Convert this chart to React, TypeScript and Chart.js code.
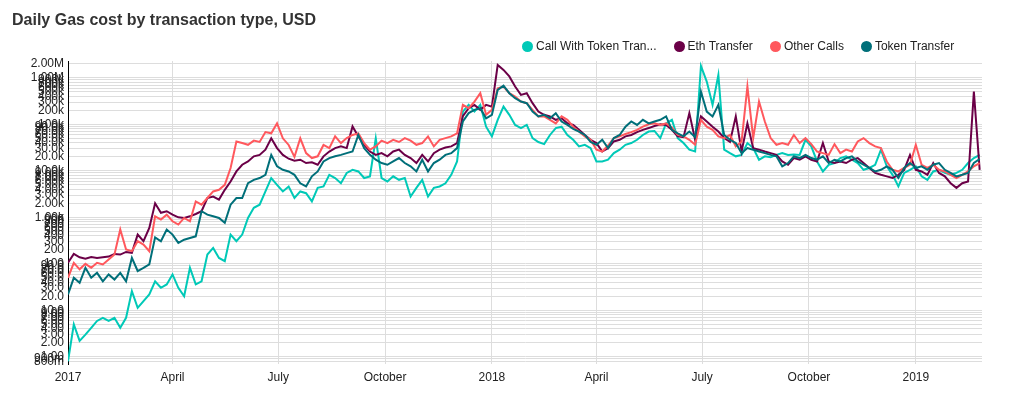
import React, { useEffect, useRef } from "react";
import { Chart, registerables } from "chart.js";

Chart.register(...registerables);

const FONT = "'Liberation Sans', Arial, Helvetica, sans-serif";

// Sampling grid: one reading every STEP_DAYS days starting at START_DATE
const START_DATE = "2017-01-01";
const STEP_DAYS = 5;
const END_DATE = "2019-02-27";

const seriesNames = ["Call With Token Transfer", "Eth Transfer", "Other Calls", "Token Transfer"];
const legendLabels = ["Call With Token Tran...", "Eth Transfer", "Other Calls", "Token Transfer"];
const seriesColors = ["#00c9b7", "#6b0047", "#ff585d", "#006f79"];

// Daily gas cost, USD (read every 5 days)
const callWithTokenTransfer = [
  0.8, 5.0, 2.2, 3.0, 4.2, 5.9, 6.9, 5.9, 6.9, 4.2,
  6.9, 25.9, 11.3, 15.8, 21.9, 42, 30.5, 36, 59, 30.5,
  20, 82, 36, 42, 158, 220, 134, 114, 425, 306,
  425, 968, 1600, 1870, 3600, 7000, 5000, 3600, 4600, 2600,
  3600, 3300, 2200, 4300, 4600, 8200, 7000, 5400, 9000, 10500,
  9700, 7000, 7600, 50000, 7000, 5900, 7600, 6400, 7000, 2800,
  4300, 6400, 2800, 4300, 4600, 5400, 8200, 15900, 188000, 262000,
  188000, 262000, 89000, 55000, 125000, 240000, 160000, 97000, 83000, 97000,
  50500, 41700, 37500, 59000, 83000, 89000, 59000, 46500, 33500, 36300,
  30800, 15900, 15900, 17300, 24000, 28500, 36300, 39500, 46500, 59000,
  70000, 72000, 50500, 105000, 125000, 50500, 39500, 28500, 26000, 1800000,
  830000, 262000, 1150000, 28500, 24000, 20500, 22000, 39500, 30800, 17300,
  20500, 19500, 22000, 24000, 22000, 22500, 22000, 46500, 33500, 15900,
  9700, 13500, 14700, 18800, 20500, 17300, 14700, 10500, 11500, 13500,
  28500, 12500, 8200, 4600, 9000, 10500, 12500, 7600, 6400, 9700,
  10500, 9000, 8200, 9000, 10500, 14700, 18800, 22000,
];

const ethTransfer = [
  105, 163, 138, 129, 140, 134, 138, 143, 163, 158,
  180, 172, 425, 306, 591, 2000, 1250, 1350, 1140, 1000,
  968, 1050, 1180, 1350, 2600, 2800, 2400, 3900, 5900, 9700,
  13500, 15900, 20500, 22000, 28500, 50000, 30800, 22000, 18200, 16500,
  17300, 14700, 15300, 13500, 20500, 26000, 30800, 33500, 30800, 90000,
  55000, 36300, 26000, 22000, 24000, 20500, 26000, 28500, 22000, 18800,
  14700, 22000, 15900, 24000, 28500, 31800, 33500, 39500, 150000, 222000,
  262000, 205000, 262000, 240000, 1890000, 1480000, 1070000, 650000, 429000, 467000,
  285000, 188000, 160000, 148000, 125000, 135000, 105000, 97000, 76000, 59000,
  46500, 39500, 26000, 30800, 42800, 46500, 55000, 59000, 68000, 76000,
  83000, 92000, 100000, 97000, 76000, 55000, 53000, 174000, 46500, 148000,
  115000, 89000, 70000, 50500, 41700, 148000, 26000, 105000, 30800, 28500,
  26000, 24000, 22000, 15900, 13500, 18800, 17300, 20500, 17300, 15900,
  39500, 15900, 14700, 15900, 14700, 17300, 18800, 14700, 11500, 9000,
  8200, 7600, 7000, 8200, 10500, 22000, 10500, 9700, 8200, 14700,
  9000, 7600, 5400, 4300, 5400, 5900, 506000, 10500,
];

const otherCalls = [
  50, 105, 76, 100, 82, 105, 97, 124, 158, 545,
  203, 187, 306, 259, 187, 1050, 895, 1140, 822, 697,
  968, 822, 2200, 1870, 2600, 3600, 3900, 5000, 11500, 42800,
  39500, 36300, 44700, 41700, 68000, 64000, 105000, 50000, 36000, 20000,
  50000, 24000, 18800, 20500, 36000, 30800, 55000, 39500, 50500, 59000,
  64000, 39500, 28500, 33500, 44700, 39500, 46500, 41700, 50500, 44700,
  36300, 39500, 55000, 33500, 46500, 50500, 55000, 64000, 262000, 222000,
  309000, 467000, 160000, 205000, 597000, 650000, 467000, 396000, 309000, 285000,
  205000, 148000, 148000, 125000, 105000, 148000, 125000, 89000, 70000, 55000,
  46500, 28500, 26000, 35000, 50500, 55000, 62000, 68000, 76000, 89000,
  100000, 105000, 97000, 105000, 86000, 59000, 55000, 46500, 36300, 125000,
  89000, 76000, 55000, 50500, 59000, 33500, 42800, 650000, 50500, 309000,
  115000, 50500, 36300, 39500, 36300, 59000, 39500, 50500, 37500, 26000,
  24000, 22000, 37500, 24000, 28500, 26000, 42800, 50500, 39500, 33500,
  30800, 15900, 10500, 9700, 11500, 13500, 36300, 13500, 11500, 13500,
  10500, 9700, 8200, 7000, 8200, 9700, 12500, 14700,
];

const tokenTransfer = [
  21.9, 50, 39, 82, 50, 64, 42, 59, 46, 64,
  42, 134, 70, 82, 97, 370, 306, 545, 425, 282,
  330, 360, 390, 1350, 1140, 1050, 968, 760, 1870, 2600,
  2600, 5400, 6400, 7000, 8200, 22000, 12500, 10500, 9700, 8200,
  5400, 4600, 7600, 9700, 15900, 18800, 20500, 22000, 24000, 26000,
  59000, 30800, 22000, 17300, 14700, 13500, 15900, 18800, 14700, 12500,
  9700, 17300, 9700, 14700, 17300, 22000, 24000, 30800, 115000, 174000,
  205000, 222000, 135000, 160000, 550000, 680000, 467000, 364000, 309000, 285000,
  188000, 148000, 160000, 135000, 174000, 115000, 97000, 80000, 70000, 59000,
  41700, 36300, 46500, 30800, 50500, 59000, 89000, 115000, 97000, 125000,
  105000, 115000, 125000, 148000, 76000, 64000, 55000, 70000, 53000, 506000,
  188000, 148000, 262000, 59000, 46500, 39500, 24000, 30800, 28500, 26000,
  24000, 22000, 20500, 12500, 14700, 20500, 18800, 22000, 18800, 17300,
  20500, 14700, 17300, 15900, 18800, 20500, 15900, 13500, 11500, 9700,
  10500, 12500, 10500, 7000, 11500, 14700, 11500, 12500, 10500, 13500,
  14700, 10500, 9000, 7600, 8200, 9000, 14700, 18000,
];

const xTickDates = [
  "2017-01-01", "2017-04-01", "2017-07-01", "2017-10-01",
  "2018-01-01", "2018-04-01", "2018-07-01", "2018-10-01", "2019-01-01",
];
const xTickLabels = ["2017", "April", "July", "October", "2018", "April", "July", "October", "2019"];

const Y_MIN = 0.72;
const Y_MAX = 2300000;

const DAY_MS = 86400000;
const dayOf = (d: string) => Math.round((Date.parse(d) - Date.parse(START_DATE)) / DAY_MS);
const xTickDays = xTickDates.map(dayOf);

const yTickValues: number[] = [];
for (let e = -1; e <= 6; e++) {
  for (let m = 1; m <= 9; m++) {
    const v = Number((m * Math.pow(10, e)).toPrecision(3));
    if (v >= Y_MIN && v <= Y_MAX) yTickValues.push(v);
  }
}

function fmtSI(v: number): string {
  const units: [number, string][] = [[1e6, "M"], [1e3, "k"], [1, ""], [1e-3, "m"]];
  for (const [d, s] of units) {
    if (v >= d * 0.9999) {
      const n = v / d;
      const str = n >= 99.95 ? n.toFixed(0) : n >= 9.995 ? n.toFixed(1) : n.toFixed(2);
      return str + s;
    }
  }
  return String(v);
}

export default function App() {
  const canvasRef = useRef<HTMLCanvasElement | null>(null);

  useEffect(() => {
    if (!canvasRef.current) return;
    Chart.defaults.font.family = FONT;
    const all = [callWithTokenTransfer, ethTransfer, otherCalls, tokenTransfer];
    const datasets = all.map((vals, k) => ({
      label: seriesNames[k],
      data: vals.map((v, i) => ({ x: i * STEP_DAYS, y: v })),
      borderColor: seriesColors[k],
      backgroundColor: seriesColors[k],
      borderWidth: 2,
      pointRadius: 0,
      tension: 0,
      fill: false,
      order: 4 - k,
    }));
    const chart = new Chart(canvasRef.current, {
      type: "line",
      data: { datasets },
      options: {
        animation: false,
        responsive: false,
        layout: { padding: { left: 0, right: 19, top: 53, bottom: 0 } },
        plugins: {
          legend: { display: false },
          title: { display: false },
          tooltip: { enabled: false },
        },
        scales: {
          x: {
            type: "linear",
            min: 0,
            max: dayOf(END_DATE),
            afterBuildTicks: (s: any) => {
              s.ticks = xTickDays.map((v) => ({ value: v }));
            },
            afterFit: (s: any) => {
              s.height = 27;
            },
            ticks: {
              autoSkip: false,
              maxRotation: 0,
              padding: 6,
              color: "#222",
              font: { size: 12, family: FONT },
              callback: (v: any) => {
                const i = xTickDays.indexOf(Number(v));
                return i >= 0 ? xTickLabels[i] : "";
              },
            },
            grid: { color: "#dddddd", lineWidth: 1, drawTicks: false },
            border: { display: false },
          },
          y: {
            type: "logarithmic",
            min: Y_MIN,
            max: Y_MAX,
            afterBuildTicks: (s: any) => {
              s.ticks = yTickValues.map((v) => ({ value: v }));
            },
            afterFit: (s: any) => {
              s.width = 60;
            },
            ticks: {
              autoSkip: false,
              padding: 4,
              color: "#222",
              font: { size: 12, family: FONT },
              callback: (v: any) => fmtSI(Number(v)),
            },
            grid: { color: "#dddddd", lineWidth: 1, drawTicks: false },
            border: { display: true, color: "#000000", width: 1 },
          },
        },
      },
    } as any);
    return () => chart.destroy();
  }, []);

  return (
    <div style={{ position: "relative", width: 993, height: 383, fontFamily: FONT }}>
      <canvas ref={canvasRef} width={993} height={383} style={{ position: "absolute", left: 0, top: 0 }} />
      <div
        style={{
          position: "absolute",
          left: 4,
          top: 3,
          fontSize: 16,
          fontWeight: "bold",
          color: "#333",
          lineHeight: "18px",
          whiteSpace: "nowrap",
        }}
      >
        Daily Gas cost by transaction type, USD
      </div>
      <div
        style={{
          position: "absolute",
          left: 514,
          top: 31,
          display: "flex",
          gap: 17,
          fontSize: 12,
          lineHeight: "14px",
          color: "#222",
          whiteSpace: "nowrap",
        }}
      >
        {legendLabels.map((l, k) => (
          <div key={l} style={{ display: "flex", alignItems: "center" }}>
            <span
              style={{
                display: "inline-block",
                width: 11,
                height: 11,
                borderRadius: "50%",
                background: seriesColors[k],
                marginRight: 3,
              }}
            />
            <span>{l}</span>
          </div>
        ))}
      </div>
    </div>
  );
}
